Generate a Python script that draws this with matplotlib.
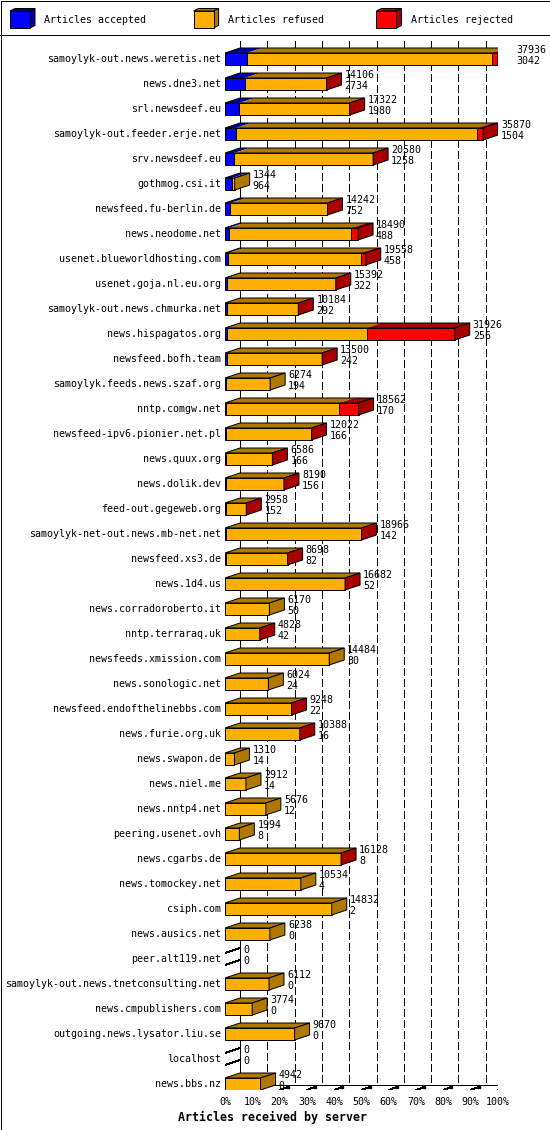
import matplotlib
matplotlib.use('Agg')
import matplotlib.pyplot as plt
from matplotlib.patches import Polygon, Rectangle
import numpy as np

plt.rcParams['lines.scale_dashes'] = False

servers = [
    'samoylyk-out.news.weretis.net', 'news.dne3.net', 'srl.newsdeef.eu',
    'samoylyk-out.feeder.erje.net', 'srv.newsdeef.eu', 'gothmog.csi.it',
    'newsfeed.fu-berlin.de', 'news.neodome.net', 'usenet.blueworldhosting.com',
    'usenet.goja.nl.eu.org', 'samoylyk-out.news.chmurka.net', 'news.hispagatos.org',
    'newsfeed.bofh.team', 'samoylyk.feeds.news.szaf.org', 'nntp.comgw.net',
    'newsfeed-ipv6.pionier.net.pl', 'news.quux.org', 'news.dolik.dev',
    'feed-out.gegeweb.org', 'samoylyk-net-out.news.mb-net.net', 'newsfeed.xs3.de',
    'news.1d4.us', 'news.corradoroberto.it', 'nntp.terraraq.uk',
    'newsfeeds.xmission.com', 'news.sonologic.net', 'newsfeed.endofthelinebbs.com',
    'news.furie.org.uk', 'news.swapon.de', 'news.niel.me', 'news.nntp4.net',
    'peering.usenet.ovh', 'news.cgarbs.de', 'news.tomockey.net', 'csiph.com',
    'news.ausics.net', 'peer.alt119.net', 'samoylyk-out.news.tnetconsulting.net',
    'news.cmpublishers.com', 'outgoing.news.lysator.liu.se', 'localhost', 'news.bbs.nz',
]
total = [37936, 14106, 17322, 35870, 20580, 1344, 14242, 18490, 19558, 15392,
         10184, 31926, 13500, 6274, 18562, 12022, 6586, 8190, 2958, 18966,
         8698, 16682, 6170, 4828, 14484, 6024, 9248, 10388, 1310, 2912,
         5676, 1994, 16128, 10534, 14832, 6238, 0, 6112, 3774, 9670, 0, 4942]
accepted = [3042, 2734, 1980, 1504, 1258, 964, 752, 488, 458, 322,
            292, 256, 242, 194, 170, 166, 166, 156, 152, 142,
            82, 52, 50, 42, 30, 24, 22, 16, 14, 14,
            12, 8, 8, 4, 2, 0, 0, 0, 0, 0, 0, 0]
rejected = [830, 30, 30, 830, 30, 0, 30, 970, 690, 30,
            30, 12260, 30, 0, 2680, 30, 30, 30, 30, 30,
            30, 60, 0, 30, 0, 0, 30, 30, 0, 0,
            0, 0, 30, 0, 0, 0, 0, 0, 0, 0, 0, 0]
series_names = ['Articles accepted', 'Articles refused', 'Articles rejected']
front_colors = ['#0000FF', '#FFAF00', '#FF0000']
dark_colors = ['#0000A8', '#B07800', '#A80000']
xticks = [0, 10, 20, 30, 40, 50, 60, 70, 80, 90, 100]
xtick_labels = ['%d%%' % t for t in xticks]
xlabel = 'Articles received by server'

FONT = 'DejaVu Sans Mono'
FS = 7.2
LW = 0.72
W, H = 550, 1130
DASH = (0, (5.04, 2.88))   # 7 px on, 4 px off

fig = plt.figure(figsize=(W / 100, H / 100), dpi=100)
bg = fig.add_axes([0, 0, 1, 1])
bg.set_xlim(0, W)
bg.set_ylim(H, 0)
bg.axis('off')

n = len(servers)
ROW = 25.0           # pixels per row
ax = fig.add_axes([225 / W, 40 / H, 273 / W, 1055 / H])
ax.set_xlim(0, 100)
ax.set_ylim(n - 0.5, n - 0.5 - 1055 / ROW)
ax.axis('off')

# pixel -> data conversion
p0 = ax.transData.transform((0, 0))
q = ax.transData.inverted().transform(p0 + np.array([15.0, 5.0]))
DX, DY = q[0], q[1]          # back-plane offset (15 px right, 5 px up)
sx, sy = DX / 15.0, -DY / 5.0  # data units per pixel
BH = 12 * sy
floor = n - 0.5
ytop_axes = ax.get_ylim()[1]


def line(a, xs, ys, **kw):
    kw.setdefault('color', 'k')
    kw.setdefault('lw', LW)
    kw.setdefault('antialiased', False)
    kw.setdefault('zorder', 1)
    a.plot(xs, ys, solid_capstyle='butt', dash_capstyle='butt', **kw)


# ---- frame and legend ----
bg.add_patch(Rectangle((0.5, 0.5), W - 1, H - 1, fill=False, ec='k', lw=LW, antialiased=False))
line(bg, [0, W], [35, 35])
leg_x = [10, 193.6, 376.4]
for i, name in enumerate(series_names):
    x0 = leg_x[i]
    bg.add_patch(Polygon([(x0, 11), (x0 + 20, 11), (x0 + 25, 8.5), (x0 + 5, 8.5)],
                         closed=True, fc=dark_colors[i], ec='k', lw=LW))
    bg.add_patch(Polygon([(x0 + 20, 11), (x0 + 25, 8.5), (x0 + 25, 25.5), (x0 + 20, 28)],
                         closed=True, fc=dark_colors[i], ec='k', lw=LW))
    bg.add_patch(Rectangle((x0, 11), 20, 17, fc=front_colors[i], ec='k', lw=LW))
    bg.text(x0 + 34.5, 20, name, family=FONT, fontsize=FS, va='center', ha='left')

# ---- walls, grid, floor ----
for t in xticks[1:-1]:
    line(ax, [t + DX, t + DX], [ytop_axes + 5.7 * sy, floor + DY], ls=DASH)
line(ax, [DX, DX], [floor + DY, ytop_axes + 5.7 * sy])
line(ax, [100 + DX, 100 + DX], [floor + DY, ytop_axes])
line(ax, [0, 100], [floor, floor])
line(ax, [DX, 307 * sx], [floor + DY, floor + DY])
line(ax, [-DX, DX], [floor - DY, floor + DY])
line(ax, [100, 100 + DX], [floor, floor + DY])
for t, lab in zip(xticks, xtick_labels):
    line(ax, [t, t], [floor, floor + 4 * sy])
    if 0 < t < 100:
        line(ax, [t, t + 8 * sx], [floor, floor - 3 * sy])
        ax.plot([t + 8 * sx], [floor - 3 * sy], marker='s', ms=1.8, color='k', zorder=1)
    ax.annotate(lab, xy=(t, floor), xytext=(0, -12), textcoords='offset pixels',
                ha='center', va='center', family=FONT, fontsize=FS,
                annotation_clip=False)
bg.text(272, 1117, xlabel, family=FONT, fontsize=8.4, fontweight='bold',
        ha='center', va='center')

# ---- bars ----
vmax = max(total)
for k in range(n):
    bot = k + 0.5
    top = bot - BH
    ycen = (top + bot) / 2
    ax.annotate(servers[k], xy=(0, ycen), xytext=(-4, 0), textcoords='offset pixels',
                ha='right', va='center', family=FONT, fontsize=FS, annotation_clip=False)
    vals = [accepted[k], total[k] - accepted[k] - rejected[k], rejected[k]]
    xe = total[k] / vmax * 100
    if total[k] == 0:
        line(ax, [0, DX], [top, top + DY], zorder=3)
        line(ax, [0, DX], [bot, bot + DY], zorder=3)
    else:
        edges = np.concatenate([[0], np.cumsum(vals)]) / vmax * 100
        last = max(i for i in range(3) if vals[i] > 0)
        for i in range(3):
            if vals[i] <= 0:
                continue
            x0, x1 = edges[i], edges[i + 1]
            ax.add_patch(Polygon([(x0, top), (x1, top), (x1 + DX, top + DY), (x0 + DX, top + DY)],
                                 closed=True, fc=dark_colors[i], ec='none', zorder=3))
        ax.add_patch(Polygon([(0, top), (xe, top), (xe + DX, top + DY), (DX, top + DY)],
                             closed=True, fill=False, ec='k', lw=LW, zorder=4))
        for i in range(3):
            if vals[i] <= 0:
                continue
            x0, x1 = edges[i], edges[i + 1]
            ax.add_patch(Rectangle((x0, top), x1 - x0, bot - top, fc=front_colors[i],
                                   ec='k', lw=LW, zorder=4))
        ax.add_patch(Polygon([(xe, top), (xe + DX, top + DY), (xe + DX, bot + DY), (xe, bot)],
                             closed=True, fc=dark_colors[last], ec='k', lw=LW, zorder=4))
    ax.annotate(str(total[k]), xy=(xe + DX, top), xytext=(3, 3), textcoords='offset pixels',
                ha='left', va='center', family=FONT, fontsize=FS, zorder=5,
                annotation_clip=False)
    ax.annotate(str(accepted[k]), xy=(xe + DX, top), xytext=(3, -8), textcoords='offset pixels',
                ha='left', va='center', family=FONT, fontsize=FS, zorder=5,
                annotation_clip=False)

fig.savefig('out.png', dpi=100)
